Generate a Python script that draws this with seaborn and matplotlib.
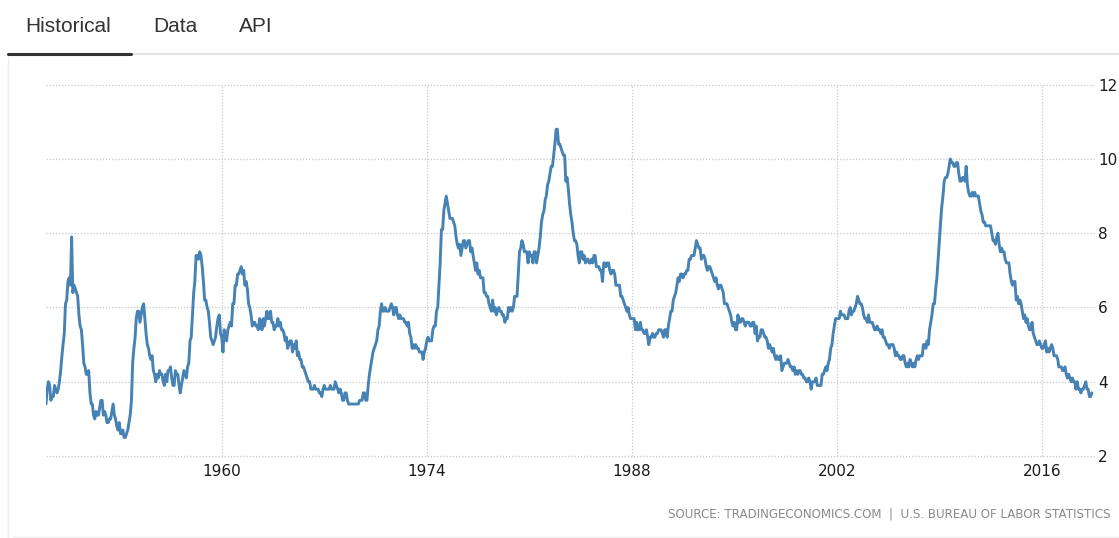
import seaborn as sns
import matplotlib.pyplot as plt
import matplotlib.dates as mdates
import pandas as pd

# US unemployment rate, monthly, Jan 1948 - Jun 2019 (one row per year)
rate_1948_1959 = [
    3.4, 3.8, 4.0, 3.9, 3.5, 3.6, 3.6, 3.9, 3.8, 3.7, 3.8, 4.0,
    4.3, 4.7, 5.0, 5.3, 6.1, 6.2, 6.7, 6.8, 6.6, 7.9, 6.4, 6.6,
    6.5, 6.4, 6.3, 5.8, 5.5, 5.4, 5.0, 4.5, 4.4, 4.2, 4.2, 4.3,
    3.7, 3.4, 3.4, 3.1, 3.0, 3.2, 3.1, 3.1, 3.3, 3.5, 3.5, 3.1,
    3.2, 3.1, 2.9, 2.9, 3.0, 3.0, 3.2, 3.4, 3.1, 3.0, 2.8, 2.7,
    2.9, 2.6, 2.6, 2.7, 2.5, 2.5, 2.6, 2.7, 2.9, 3.1, 3.5, 4.5,
    4.9, 5.2, 5.7, 5.9, 5.9, 5.6, 5.8, 6.0, 6.1, 5.7, 5.3, 5.0,
    4.9, 4.7, 4.6, 4.7, 4.3, 4.2, 4.0, 4.2, 4.1, 4.3, 4.2, 4.2,
    4.0, 3.9, 4.2, 4.0, 4.3, 4.3, 4.4, 4.1, 3.9, 3.9, 4.3, 4.2,
    4.2, 3.9, 3.7, 3.9, 4.1, 4.3, 4.2, 4.1, 4.4, 4.5, 5.1, 5.2,
    5.8, 6.4, 6.7, 7.4, 7.4, 7.3, 7.5, 7.4, 7.1, 6.7, 6.2, 6.2,
    6.0, 5.9, 5.6, 5.2, 5.1, 5.0, 5.1, 5.2, 5.5, 5.7, 5.8, 5.3,
]
rate_1960_1971 = [
    5.2, 4.8, 5.4, 5.2, 5.1, 5.4, 5.5, 5.6, 5.5, 6.1, 6.1, 6.6,
    6.6, 6.9, 6.9, 7.0, 7.1, 6.9, 7.0, 6.6, 6.7, 6.5, 6.1, 6.0,
    5.8, 5.5, 5.6, 5.6, 5.5, 5.5, 5.4, 5.7, 5.6, 5.4, 5.7, 5.5,
    5.7, 5.9, 5.7, 5.7, 5.9, 5.6, 5.6, 5.4, 5.5, 5.5, 5.7, 5.5,
    5.6, 5.4, 5.4, 5.3, 5.1, 5.2, 4.9, 5.0, 5.1, 5.1, 4.8, 5.0,
    4.9, 5.1, 4.7, 4.8, 4.6, 4.6, 4.4, 4.4, 4.3, 4.2, 4.1, 4.0,
    4.0, 3.8, 3.8, 3.8, 3.9, 3.8, 3.8, 3.8, 3.7, 3.7, 3.6, 3.8,
    3.9, 3.8, 3.8, 3.8, 3.8, 3.9, 3.8, 3.8, 3.8, 4.0, 3.9, 3.8,
    3.7, 3.8, 3.7, 3.5, 3.5, 3.7, 3.7, 3.5, 3.4, 3.4, 3.4, 3.4,
    3.4, 3.4, 3.4, 3.4, 3.4, 3.5, 3.5, 3.5, 3.7, 3.7, 3.5, 3.5,
    3.9, 4.2, 4.4, 4.6, 4.8, 4.9, 5.0, 5.1, 5.4, 5.5, 5.9, 6.1,
    5.9, 5.9, 6.0, 5.9, 5.9, 5.9, 6.0, 6.1, 6.0, 5.8, 6.0, 6.0,
]
rate_1972_1983 = [
    5.8, 5.7, 5.8, 5.7, 5.7, 5.7, 5.6, 5.6, 5.5, 5.6, 5.3, 5.2,
    4.9, 5.0, 4.9, 5.0, 4.9, 4.9, 4.8, 4.8, 4.8, 4.6, 4.8, 4.9,
    5.1, 5.2, 5.1, 5.1, 5.1, 5.4, 5.5, 5.5, 5.9, 6.0, 6.6, 7.2,
    8.1, 8.1, 8.6, 8.8, 9.0, 8.8, 8.6, 8.4, 8.4, 8.4, 8.3, 8.2,
    7.9, 7.7, 7.6, 7.7, 7.4, 7.6, 7.8, 7.8, 7.6, 7.7, 7.8, 7.8,
    7.5, 7.6, 7.4, 7.2, 7.0, 7.2, 6.9, 7.0, 6.8, 6.8, 6.8, 6.4,
    6.4, 6.3, 6.3, 6.1, 6.0, 5.9, 6.2, 5.9, 6.0, 5.8, 5.9, 6.0,
    5.9, 5.9, 5.8, 5.8, 5.6, 5.7, 5.7, 6.0, 5.9, 6.0, 5.9, 6.0,
    6.3, 6.3, 6.3, 6.9, 7.5, 7.6, 7.8, 7.7, 7.5, 7.5, 7.5, 7.2,
    7.5, 7.4, 7.4, 7.2, 7.5, 7.5, 7.2, 7.4, 7.6, 7.9, 8.3, 8.5,
    8.6, 8.9, 9.0, 9.3, 9.4, 9.6, 9.8, 9.8, 10.1, 10.4, 10.8, 10.8,
    10.4, 10.4, 10.3, 10.2, 10.1, 10.1, 9.4, 9.5, 9.2, 8.8, 8.5, 8.3,
]
rate_1984_1995 = [
    8.0, 7.8, 7.8, 7.7, 7.4, 7.2, 7.5, 7.5, 7.3, 7.4, 7.2, 7.3,
    7.3, 7.2, 7.2, 7.3, 7.2, 7.4, 7.4, 7.1, 7.1, 7.1, 7.0, 7.0,
    6.7, 7.2, 7.2, 7.1, 7.2, 7.2, 7.0, 6.9, 7.0, 7.0, 6.9, 6.6,
    6.6, 6.6, 6.6, 6.3, 6.3, 6.2, 6.1, 6.0, 5.9, 6.0, 5.8, 5.7,
    5.7, 5.7, 5.7, 5.4, 5.6, 5.4, 5.4, 5.6, 5.4, 5.4, 5.3, 5.3,
    5.4, 5.2, 5.0, 5.2, 5.2, 5.3, 5.2, 5.2, 5.3, 5.3, 5.4, 5.4,
    5.4, 5.3, 5.2, 5.4, 5.4, 5.2, 5.5, 5.7, 5.9, 5.9, 6.2, 6.3,
    6.4, 6.6, 6.8, 6.7, 6.9, 6.9, 6.8, 6.9, 6.9, 7.0, 7.0, 7.3,
    7.3, 7.4, 7.4, 7.4, 7.6, 7.8, 7.7, 7.6, 7.6, 7.3, 7.4, 7.4,
    7.3, 7.1, 7.0, 7.1, 7.1, 7.0, 6.9, 6.8, 6.7, 6.8, 6.6, 6.5,
    6.6, 6.6, 6.5, 6.4, 6.1, 6.1, 6.1, 6.0, 5.9, 5.8, 5.6, 5.5,
    5.6, 5.4, 5.4, 5.8, 5.6, 5.6, 5.7, 5.7, 5.6, 5.5, 5.6, 5.6,
]
rate_1996_2007 = [
    5.6, 5.5, 5.5, 5.6, 5.6, 5.3, 5.5, 5.1, 5.2, 5.2, 5.4, 5.4,
    5.3, 5.2, 5.2, 5.1, 4.9, 5.0, 4.9, 4.8, 4.9, 4.7, 4.6, 4.7,
    4.6, 4.6, 4.7, 4.3, 4.4, 4.5, 4.5, 4.5, 4.6, 4.5, 4.4, 4.4,
    4.3, 4.4, 4.2, 4.3, 4.2, 4.3, 4.3, 4.2, 4.2, 4.1, 4.1, 4.0,
    4.0, 4.1, 4.0, 3.8, 4.0, 4.0, 4.0, 4.1, 3.9, 3.9, 3.9, 3.9,
    4.2, 4.2, 4.3, 4.4, 4.3, 4.5, 4.6, 4.9, 5.0, 5.3, 5.5, 5.7,
    5.7, 5.7, 5.7, 5.9, 5.8, 5.8, 5.8, 5.7, 5.7, 5.7, 5.9, 6.0,
    5.8, 5.9, 5.9, 6.0, 6.1, 6.3, 6.2, 6.1, 6.1, 6.0, 5.8, 5.7,
    5.7, 5.6, 5.8, 5.6, 5.6, 5.6, 5.5, 5.4, 5.4, 5.5, 5.4, 5.4,
    5.3, 5.4, 5.2, 5.2, 5.1, 5.0, 5.0, 4.9, 5.0, 5.0, 5.0, 4.9,
    4.7, 4.8, 4.7, 4.7, 4.6, 4.6, 4.7, 4.7, 4.5, 4.4, 4.5, 4.4,
    4.6, 4.5, 4.4, 4.5, 4.4, 4.6, 4.7, 4.6, 4.7, 4.7, 4.7, 5.0,
]
rate_2008_2019 = [
    5.0, 4.9, 5.1, 5.0, 5.4, 5.6, 5.8, 6.1, 6.1, 6.5, 6.8, 7.3,
    7.8, 8.3, 8.7, 9.0, 9.4, 9.5, 9.5, 9.6, 9.8, 10.0, 9.9, 9.9,
    9.8, 9.8, 9.9, 9.9, 9.6, 9.4, 9.4, 9.5, 9.5, 9.4, 9.8, 9.3,
    9.1, 9.0, 9.0, 9.1, 9.0, 9.1, 9.0, 9.0, 9.0, 8.8, 8.6, 8.5,
    8.3, 8.3, 8.2, 8.2, 8.2, 8.2, 8.2, 8.0, 7.8, 7.8, 7.7, 7.9,
    8.0, 7.7, 7.5, 7.6, 7.5, 7.5, 7.3, 7.2, 7.2, 7.2, 6.9, 6.7,
    6.6, 6.7, 6.7, 6.2, 6.3, 6.1, 6.2, 6.1, 5.9, 5.7, 5.8, 5.6,
    5.7, 5.5, 5.4, 5.4, 5.6, 5.3, 5.2, 5.1, 5.0, 5.0, 5.1, 5.0,
    4.9, 4.9, 5.0, 5.1, 4.8, 4.9, 4.8, 4.9, 5.0, 4.9, 4.7, 4.7,
    4.7, 4.6, 4.4, 4.4, 4.4, 4.3, 4.3, 4.4, 4.2, 4.1, 4.2, 4.1,
    4.0, 4.1, 4.0, 4.0, 3.8, 4.0, 3.8, 3.8, 3.7, 3.8, 3.8, 3.9,
    4.0, 3.8, 3.8, 3.6, 3.6, 3.7,
]
x_ticks = ['1960', '1974', '1988', '2002', '2016']
y_ticks = [2, 4, 6, 8, 10, 12]
tabs = ['Historical', 'Data', 'API']
source = 'SOURCE: TRADINGECONOMICS.COM  |  U.S. BUREAU OF LABOR STATISTICS'

rate = (rate_1948_1959 + rate_1960_1971 + rate_1972_1983 +
        rate_1984_1995 + rate_1996_2007 + rate_2008_2019)
df = pd.DataFrame({
    'date': pd.date_range('1948-01-01', periods=len(rate), freq='MS'),
    'rate': rate,
})

sns.set_style('white')
plt.rcParams['font.family'] = ['DejaVu Sans']

fig = plt.figure(figsize=(11.19, 5.38), dpi=100)
ax = fig.add_axes([46 / 1119, 1 - 456 / 538, (1094 - 46) / 1119, (456 - 84.7) / 538])

sns.lineplot(data=df, x='date', y='rate', ax=ax, color='#4682b4', linewidth=2.1)

ax.set_xlim(pd.Timestamp('1948-01-01'), pd.Timestamp('2019-07-25'))
ax.set_ylim(2, 12)
ax.set_xticks([pd.Timestamp(t + '-01-01') for t in x_ticks])
ax.xaxis.set_major_formatter(mdates.DateFormatter('%Y'))
ax.set_yticks(y_ticks)
ax.yaxis.tick_right()
ax.tick_params(axis='both', length=0, labelsize=11, labelcolor='#1a1a1a')
ax.tick_params(axis='y', pad=3)
ax.tick_params(axis='x', pad=6)
ax.grid(True, color='#c8c8c8', linestyle=(0, (1, 1.5)), linewidth=0.9)
for g in ax.get_ygridlines() + ax.get_xgridlines():
    g.set_clip_on(False)
for s in ax.spines.values():
    s.set_visible(False)
ax.set_xlabel('')
ax.set_ylabel('')

# tab header
tab_x = [25, 153, 239]
for t, x in zip(tabs, tab_x):
    fig.text(x / 1119, 1 - 26 / 538, t, fontsize=15, color='#333333',
             family='Liberation Sans', va='center', ha='left')
fig.add_artist(plt.Line2D([131 / 1119, 1], [1 - 54 / 538] * 2, color='#dddddd', linewidth=1.2))
fig.add_artist(plt.Line2D([8 / 1119, 131 / 1119], [1 - 54 / 538] * 2, color='#333333', linewidth=2.2))
# faint panel border
fig.add_artist(plt.Line2D([8 / 1119] * 2, [0, 1 - 57 / 538], color='#eeeeee', linewidth=1))
fig.add_artist(plt.Line2D([13 / 1119, 1], [1 / 538] * 2, color='#eeeeee', linewidth=1))

fig.text(1111 / 1119, 1 - 514 / 538, source, fontsize=8.6, color='#8a8a8a',
         ha='right', va='center')

fig.savefig('out.png', dpi=100)
